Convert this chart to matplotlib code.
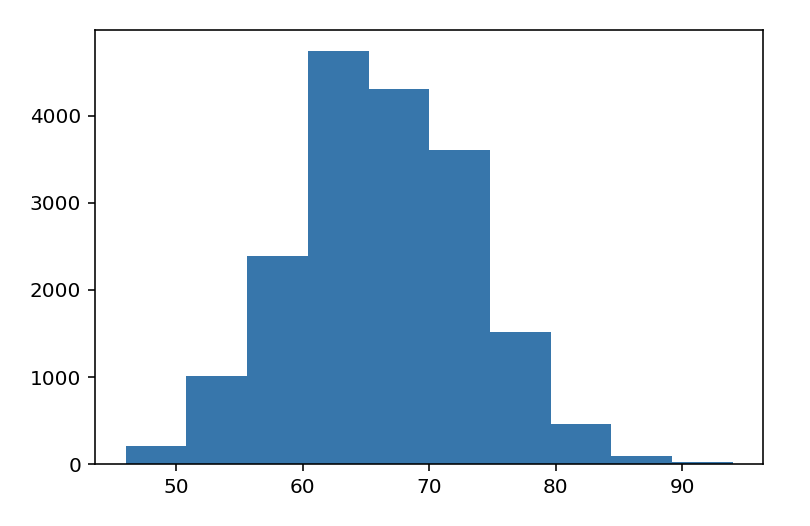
import numpy as np
import matplotlib
matplotlib.use("Agg")
import matplotlib.pyplot as plt

# bin edges and counts
bin_edges = [46.0, 50.8, 55.6, 60.4, 65.2, 70.0, 74.8, 79.6, 84.4, 89.2, 94.0]
counts = [210, 1010, 2385, 4745, 4310, 3605, 1515, 460, 95, 25]

fig = plt.figure(figsize=(810 / 144, 526 / 144), dpi=144)
ax = fig.add_axes([95.3 / 810, 61.7 / 526, 668 / 810, 434.3 / 526])

ax.hist(bin_edges[:-1], bins=bin_edges, weights=counts, color="#3776ab")

ax.set_xticks([50, 60, 70, 80, 90])
ax.set_yticks([0, 1000, 2000, 3000, 4000])

fig.savefig("out.png", dpi=144)
